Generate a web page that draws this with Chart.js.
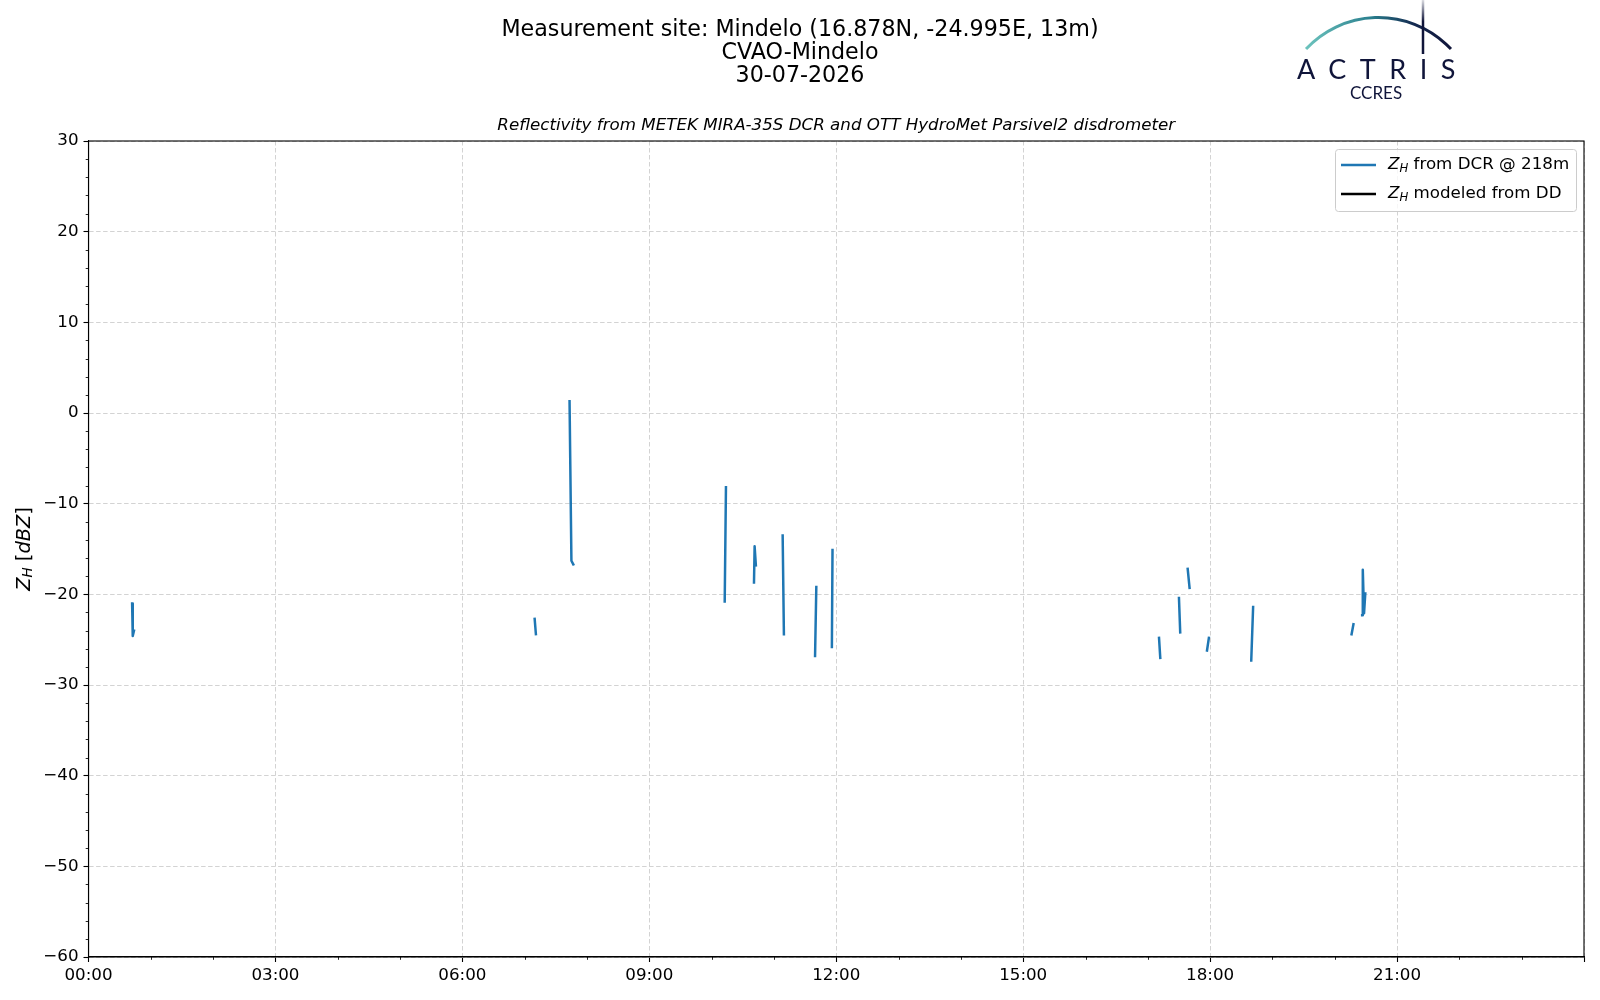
<!DOCTYPE html>
<html>
<head>
<meta charset="utf-8">
<title>Reflectividad Mindelo</title>
<script src="https://cdn.jsdelivr.net/npm/chart.js@4.4.1/dist/chart.umd.min.js"></script>
<style>
  body { margin: 0; background: #ffffff; }
  #grafica { display: block; }
</style>
</head>
<body>
<canvas id="grafica" width="1600" height="1000"></canvas>
<script>
// horas decimales (UTC) y Z_H del radar; null = hueco entre tramos
const horas = [
  0.70, 0.71, 0.73, 0.73,
  7.16, 7.18, 7.18,
  7.72, 7.75, 7.78, 7.78,
  10.21, 10.23, 10.23,
  10.68, 10.69, 10.71, 10.71,
  11.14, 11.16, 11.16,
  11.66, 11.68, 11.68,
  11.93, 11.94, 11.94,
  17.18, 17.20, 17.20,
  17.50, 17.52, 17.52,
  17.64, 17.67, 17.67,
  17.95, 17.98, 17.98,
  18.66, 18.69, 18.69,
  20.27, 20.30, 20.30,
  20.44, 20.45, 20.47, 20.49
];
const zhRadar = [
  -21.0, -24.6, -24.0, null,
  -22.7, -24.4, null,
  1.3, -16.3, -16.7, null,
  -20.8, -8.2, null,
  -18.7, -14.7, -16.8, null,
  -13.5, -24.4, null,
  -26.8, -19.2, null,
  -25.8, -15.1, null,
  -24.8, -27.0, null,
  -20.4, -24.2, null,
  -17.2, -19.3, null,
  -26.2, -24.8, null,
  -27.3, -21.4, null,
  -24.4, -23.3, null,
  -22.3, -17.3, -22.1, -19.9
];
// el modelo del disdrómetro no tiene datos este día
const zhModelo = [];

const titulos = ['Measurement site: Mindelo (16.878N, -24.995E, 13m)', 'CVAO-Mindelo', '30-07-2026'];
const subtitulo = 'Reflectivity from METEK MIRA-35S DCR and OTT HydroMet Parsivel2 disdrometer';
const leyendas = ['Z_H from DCR @ 218m', 'Z_H modeled from DD'];
const colores = ['#1f77b4', '#000000'];

const fuente = 'DejaVu Sans';
const negro = '#000000';

const armaPuntos = function(xs, ys) {
  let puntos = [];
  for (let i = 0; i < ys.length; i++) {
    puntos.push({ x: xs[i], y: ys[i] });
  }
  return puntos;
};

// Z con subíndice H, en cursiva como el mathtext
const dibujaZH = function(ctx, x, y, tam) {
  ctx.font = 'italic ' + tam + 'px "' + fuente + '"';
  ctx.fillText('Z', x, y);
  let w = ctx.measureText('Z').width;
  ctx.font = 'italic ' + (tam * 0.7).toFixed(1) + 'px "' + fuente + '"';
  ctx.fillText('H', x + w, y + tam * 0.22);
  w += ctx.measureText('H').width;
  return w;
};

const decoraciones = {
  id: 'decoraciones',
  afterDraw(chart) {
    const ctx = chart.ctx;
    const area = chart.chartArea;
    const ex = chart.scales.x;
    const ey = chart.scales.y;
    ctx.save();

    // marco completo
    ctx.strokeStyle = negro;
    ctx.lineWidth = 1.1;
    ctx.strokeRect(area.left, area.top, area.right - area.left, area.bottom - area.top);

    // ticks menores
    ctx.lineWidth = 0.85;
    ctx.beginPath();
    for (let v = -60; v <= 30; v += 2) {
      if (v % 10 === 0) continue;
      const py = Math.round(ey.getPixelForValue(v)) + 0.5;
      ctx.moveTo(area.left, py);
      ctx.lineTo(area.left - 2.8, py);
    }
    for (let h = 1; h < 24; h++) {
      if (h % 3 === 0) continue;
      const px = Math.round(ex.getPixelForValue(h)) + 0.5;
      ctx.moveTo(px, area.bottom);
      ctx.lineTo(px, area.bottom + 2.8);
    }
    ctx.stroke();

    // títulos
    ctx.fillStyle = negro;
    ctx.textAlign = 'center';
    ctx.textBaseline = 'middle';
    ctx.font = '22.2px "' + fuente + '"';
    const yTitulos = [30.5, 53, 76];
    titulos.forEach((t, i) => ctx.fillText(t, 800, yTitulos[i]));
    ctx.font = 'italic 16.7px "' + fuente + '"';
    ctx.fillText(subtitulo, (area.left + area.right) / 2, 126);

    // etiqueta del eje y: Z_H [dBZ]
    const tl = 19.4;
    ctx.save();
    ctx.translate(24.5, (area.top + area.bottom) / 2);
    ctx.rotate(-Math.PI / 2);
    ctx.textAlign = 'left';
    ctx.textBaseline = 'middle';
    ctx.font = 'italic ' + tl + 'px "' + fuente + '"';
    let ancho = ctx.measureText('Z').width;
    ctx.font = 'italic ' + (tl * 0.7).toFixed(1) + 'px "' + fuente + '"';
    ancho += ctx.measureText('H').width;
    ctx.font = tl + 'px "' + fuente + '"';
    ancho += ctx.measureText(' [').width + ctx.measureText(']').width;
    ctx.font = 'italic ' + tl + 'px "' + fuente + '"';
    ancho += ctx.measureText('dBZ').width;
    let cx = -ancho / 2;
    cx += dibujaZH(ctx, cx, 0, tl);
    ctx.font = tl + 'px "' + fuente + '"';
    ctx.fillText(' [', cx, 0);
    cx += ctx.measureText(' [').width;
    ctx.font = 'italic ' + tl + 'px "' + fuente + '"';
    ctx.fillText('dBZ', cx, 0);
    cx += ctx.measureText('dBZ').width;
    ctx.font = tl + 'px "' + fuente + '"';
    ctx.fillText(']', cx, 0);
    ctx.restore();

    // leyenda
    ctx.beginPath();
    ctx.roundRect(1335.5, 149.5, 241, 62, 3);
    ctx.fillStyle = 'rgba(255,255,255,0.8)';
    ctx.fill();
    ctx.strokeStyle = '#cccccc';
    ctx.lineWidth = 1;
    ctx.stroke();
    const yLeyenda = [165, 194];
    ctx.textAlign = 'left';
    ctx.textBaseline = 'middle';
    leyendas.forEach((l, i) => {
      ctx.strokeStyle = colores[i];
      ctx.lineWidth = 2.5;
      ctx.beginPath();
      ctx.moveTo(1341, yLeyenda[i]);
      ctx.lineTo(1376, yLeyenda[i]);
      ctx.stroke();
      ctx.fillStyle = negro;
      let lx = 1388;
      lx += dibujaZH(ctx, lx, yLeyenda[i], 16.7);
      ctx.font = '16.7px "' + fuente + '"';
      ctx.fillText(l.substring(3), lx, yLeyenda[i]);
    });

    // logo ACTRIS CCRES
    const azul = '#10153a';
    const grad = ctx.createLinearGradient(1306, 0, 1451, 0);
    grad.addColorStop(0, '#6cc3bd');
    grad.addColorStop(0.45, '#2a7f8e');
    grad.addColorStop(0.75, '#14284f');
    grad.addColorStop(1, azul);
    ctx.strokeStyle = grad;
    ctx.lineWidth = 3;
    ctx.beginPath();
    ctx.arc(1378.5, 116.5, 99, Math.atan2(49 - 116.5, 1306 - 1378.5), Math.atan2(49 - 116.5, 1451 - 1378.5));
    ctx.stroke();
    const gradV = ctx.createLinearGradient(0, 0, 0, 54);
    gradV.addColorStop(0, 'rgba(16,21,58,0.15)');
    gradV.addColorStop(0.4, azul);
    gradV.addColorStop(1, azul);
    ctx.strokeStyle = gradV;
    ctx.lineWidth = 2.5;
    ctx.beginPath();
    ctx.moveTo(1423, 0);
    ctx.lineTo(1423, 54);
    ctx.stroke();
    ctx.fillStyle = azul;
    ctx.textBaseline = 'alphabetic';
    ctx.textAlign = 'left';
    ctx.font = '27px Lato';
    ctx.letterSpacing = '13.5px';
    ctx.fillText('ACTRIS', 1297, 79);
    ctx.letterSpacing = '0px';
    ctx.font = '17px Lato';
    ctx.fillText('CCRES', 1350, 99);

    ctx.restore();
  }
};

const muestraGrafica = function() {
  const ctx = document.getElementById('grafica').getContext('2d');
  Chart.defaults.font.family = fuente;
  Chart.defaults.color = negro;

  const rejilla = { color: '#d3d3d3', lineWidth: 1, tickColor: negro, tickLength: 5, tickWidth: 1.1, tickBorderDash: [] };
  const borde = { color: negro, width: 1.1, dash: [4.5, 2.5] };

  new Chart(ctx, {
    type: 'line',
    data: {
      datasets: [
        { label: leyendas[0], data: armaPuntos(horas, zhRadar), borderColor: colores[0], backgroundColor: colores[0],
          borderWidth: 2.5, borderJoinStyle: 'round', borderCapStyle: 'square',
          pointRadius: 0, spanGaps: false, tension: 0 },
        { label: leyendas[1], data: zhModelo, borderColor: colores[1], backgroundColor: colores[1],
          borderWidth: 2.5, pointRadius: 0 }
      ]
    },
    options: {
      responsive: false,
      animation: false,
      devicePixelRatio: 1,
      layout: { padding: { top: 141, right: 16, bottom: 0, left: 0 } },
      plugins: { legend: { display: false }, title: { display: false }, tooltip: { enabled: false } },
      scales: {
        x: {
          type: 'linear', min: 0, max: 24,
          afterFit: (s) => { s.height = 43; },
          ticks: {
            stepSize: 3, autoSkip: false, maxRotation: 0, padding: 4,
            font: { size: 16.7 },
            callback: (v) => v >= 24 ? '' : String(v).padStart(2, '0') + ':00'
          },
          grid: rejilla,
          border: borde
        },
        y: {
          min: -60, max: 30,
          afterFit: (s) => { s.width = 88.5; },
          ticks: {
            stepSize: 10, padding: 5,
            font: { size: 16.7 },
            callback: (v) => String(v).replace('-', '\u2212')
          },
          grid: rejilla,
          border: borde
        }
      }
    },
    plugins: [decoraciones]
  });
};

muestraGrafica();
</script>
</body>
</html>
